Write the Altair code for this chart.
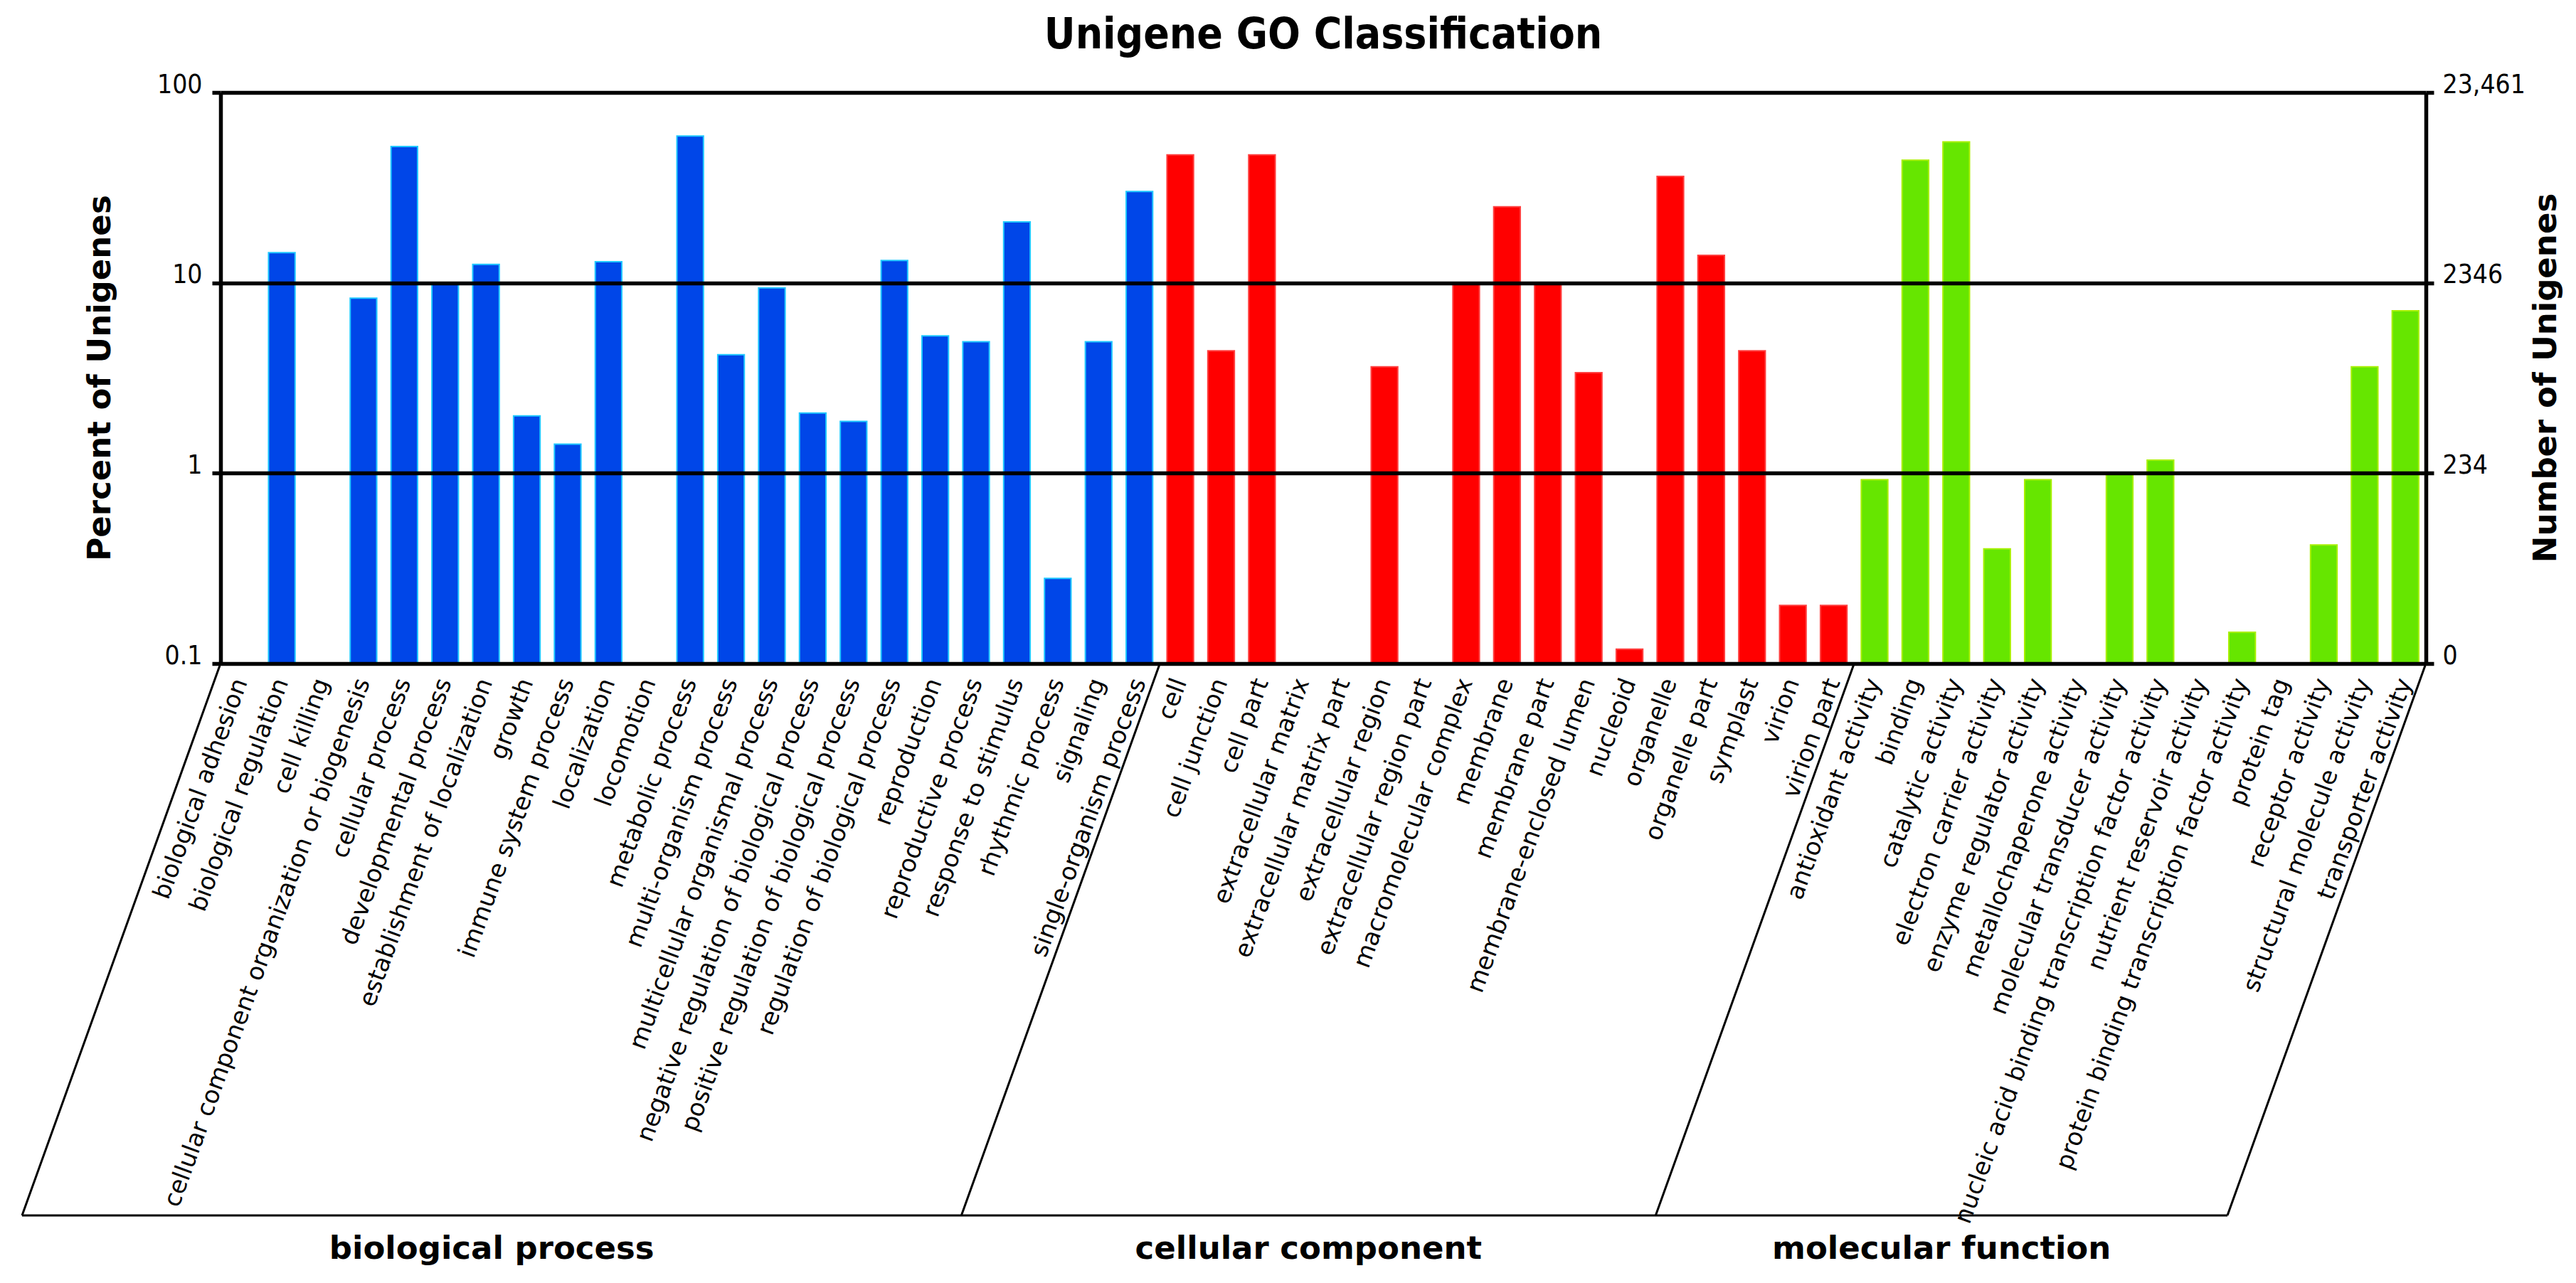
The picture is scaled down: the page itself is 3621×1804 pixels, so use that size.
import altair as alt
import pandas as pd

# ---------------- data ----------------
bp_terms = [
    "biological adhesion", "biological regulation", "cell killing",
    "cellular component organization or biogenesis", "cellular process",
    "developmental process", "establishment of localization", "growth",
    "immune system process", "localization", "locomotion", "metabolic process",
    "multi-organism process", "multicellular organismal process",
    "negative regulation of biological process",
    "positive regulation of biological process",
    "regulation of biological process", "reproduction", "reproductive process",
    "response to stimulus", "rhythmic process", "signaling",
    "single-organism process",
]
bp_values = [None, 14.4, None, 8.3, 52, 9.8, 12.5, 2.0, 1.42, 12.9, None, 59,
             4.19, 9.4, 2.07, 1.87, 13.1, 5.27, 4.9, 20.9, 0.28, 4.9, 30.2]

cc_terms = [
    "cell", "cell junction", "cell part", "extracellular matrix",
    "extracellular matrix part", "extracellular region",
    "extracellular region part", "macromolecular complex", "membrane",
    "membrane part", "membrane-enclosed lumen", "nucleoid", "organelle",
    "organelle part", "symplast", "virion", "virion part",
]
cc_values = [47, 4.39, 47, None, None, 3.62, None, 9.85, 25.1, 10.0, 3.37,
             0.119, 36.2, 13.96, 4.39, 0.202, 0.202]

mf_terms = [
    "antioxidant activity", "binding", "catalytic activity",
    "electron carrier activity", "enzyme regulator activity",
    "metallochaperone activity", "molecular transducer activity",
    "nucleic acid binding transcription factor activity",
    "nutrient reservoir activity",
    "protein binding transcription factor activity", "protein tag",
    "receptor activity", "structural molecule activity",
    "transporter activity",
]
mf_values = [0.925, 44.1, 55, 0.40, 0.925, None, 1.0, 1.17, None, 0.146,
             None, 0.42, 3.62, 7.13]

group_names = ["biological process", "cellular component", "molecular function"]
fill_colors = ["#0046E8", "#FF0000", "#66E600"]
stroke_colors = ["#20C8FF", "#FF4040", "#A8F000"]

left_ticks = [0.1, 1, 10, 100]
left_labels = ["0.1", "1", "10", "100"]
right_labels = ["0", "234", "2346", "23,461"]

# ---------------- tables ----------------
groups = [(group_names[0], bp_terms, bp_values),
          (group_names[1], cc_terms, cc_values),
          (group_names[2], mf_terms, mf_values)]
all_terms = bp_terms + cc_terms + mf_terms
rows = []
for g, terms, vals in groups:
    for t, v in zip(terms, vals):
        if v is not None:
            rows.append({"term": t, "value": v, "group": g})
df = pd.DataFrame(rows)

bounds = [0]
for g, terms, vals in groups:
    bounds.append(bounds[-1] + len(terms))
n_total = bounds[-1]
bdf = pd.DataFrame({"b": bounds})
bottom_df = pd.DataFrame({"a": [bounds[0]], "b": [bounds[-1]]})
gdf = pd.DataFrame({"group": group_names,
                    "mid": [(bounds[i] + bounds[i + 1]) / 2 for i in range(3)]})


def label_expr(labels):
    expr = "''"
    for v, lab in reversed(list(zip(left_ticks, labels))):
        expr = f"abs(datum.value - {v}) < {v} * 0.01 ? '{lab}' : ({expr})"
    return expr


def yscale():
    return alt.Scale(type="log", domain=[left_ticks[0], left_ticks[-1]], nice=False)


SLANT_DX = -279
SLANT_DY = 776
LINE_W = 5.5

left_axis = alt.Axis(
    orient="left", values=left_ticks, labelExpr=label_expr(left_labels),
    title="Percent of Unigenes", grid=True, gridColor="black", gridWidth=LINE_W,
    gridOpacity=1, domainColor="black", domainWidth=LINE_W, tickColor="black",
    tickWidth=LINE_W, tickSize=12, labelPadding=14, labelFont="DejaVu Sans Condensed",
    labelFontSize=37, labelBaseline="alphabetic", labelColor="black",
    labelFlush=False, labelOverlap=False,
    titleFont="DejaVu Sans", titleFontWeight="bold", titleFontSize=45,
    titleColor="black", titleX=-170, titleY=401, titleAngle=270,
    titleAlign="center", titleBaseline="middle", zindex=1,
)
right_axis = alt.Axis(
    orient="right", values=left_ticks, labelExpr=label_expr(right_labels),
    title="Number of Unigenes", grid=False, domainColor="black", domainWidth=LINE_W,
    tickColor="black", tickWidth=LINE_W, tickSize=11, labelPadding=12,
    labelFont="DejaVu Sans Condensed", labelFontSize=37,
    labelBaseline="alphabetic", labelColor="black", labelFlush=False,
    labelOverlap=False,
    titleFont="DejaVu Sans", titleFontWeight="bold", titleFontSize=45,
    titleColor="black", titleX=168, titleY=401, titleAngle=270,
    titleAlign="center", titleBaseline="middle", zindex=1,
)

bars = alt.Chart(df).mark_bar(strokeWidth=2).encode(
    x=alt.X("term:N",
            scale=alt.Scale(domain=all_terms, paddingInner=0.35, paddingOuter=0.175),
            axis=alt.Axis(title=None, labelAngle=290, labelAlign="right",
                          labelBaseline="middle", labelPadding=22,
                          labelFont="DejaVu Sans", labelFontSize=34,
                          labelLimit=3000, labelColor="black", ticks=False,
                          domain=False, labelOverlap=False)),
    y=alt.Y("value:Q", scale=yscale(), axis=left_axis),
    y2=alt.datum(left_ticks[0]),
    fill=alt.Fill("group:N", scale=alt.Scale(domain=group_names, range=fill_colors), legend=None),
    stroke=alt.Stroke("group:N", scale=alt.Scale(domain=group_names, range=stroke_colors), legend=None),
)

right = alt.Chart(df).mark_rule(opacity=0).encode(
    y=alt.Y("value:Q", scale=yscale(), axis=right_axis),
)

xq = alt.Scale(domain=[0, n_total], nice=False, zero=False)

slants = alt.Chart(bdf).mark_rule(color="black", strokeWidth=3,
                                  x2Offset=SLANT_DX, y2Offset=SLANT_DY).encode(
    x=alt.X("b:Q", scale=xq, axis=None),
    x2="b:Q",
    y=alt.YDatum(left_ticks[0], scale=yscale(), axis=None),
    y2=alt.datum(left_ticks[0]),
)

bottom = alt.Chart(bottom_df).mark_rule(color="black", strokeWidth=3,
                                        xOffset=SLANT_DX, x2Offset=SLANT_DX,
                                        yOffset=SLANT_DY).encode(
    x=alt.X("a:Q", scale=xq, axis=None),
    x2="b:Q",
    y=alt.YDatum(left_ticks[0], scale=yscale(), axis=None),
)

glabels = alt.Chart(gdf).mark_text(dx=SLANT_DX, dy=837, baseline="alphabetic",
                                   align="center", font="DejaVu Sans",
                                   fontWeight="bold", fontSize=45,
                                   color="black").encode(
    x=alt.X("mid:Q", scale=xq, axis=None),
    y=alt.YDatum(left_ticks[0], scale=yscale(), axis=None),
    text="group:N",
)

chart = alt.layer(bars, right, slants, bottom, glabels).resolve_scale(
    x="independent", y="independent"
).properties(
    width=3100, height=803,
    title=alt.TitleParams("Unigene GO Classification", font="DejaVu Sans Condensed",
                          fontWeight="bold", fontSize=60, anchor="middle",
                          baseline="alphabetic", offset=37, dy=65, color="black"),
    autosize=alt.AutoSizeParams(type="none"),
    padding={"left": 302, "top": 122, "right": 203, "bottom": 863},
).configure_view(stroke=None).configure(background="white")

chart.save("out.html", embed_options={"renderer": "svg", "actions": False})
